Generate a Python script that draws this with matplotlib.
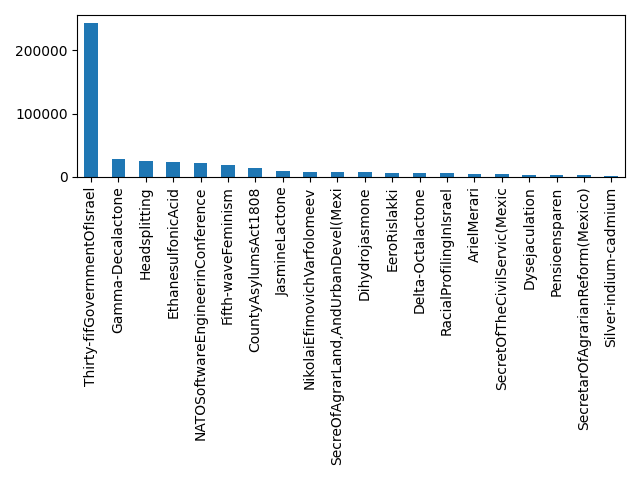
import matplotlib
matplotlib.use('Agg')
import matplotlib.pyplot as plt
import numpy as np

labels = ['Thirty-fifGovernmentOfIsrael', 'Gamma-Decalactone', 'Headsplitting',
          'EthanesulfonicAcid', 'NATOSoftwareEngineerinConference', 'Fifth-waveFeminism',
          'CountyAsylumsAct1808', 'JasmineLactone', 'NikolaiEfimovichVarfolomeev',
          'SecreOfAgrarLand,AndUrbanDevel(Mexi', 'Dihydrojasmone', 'EeroRislakki',
          'Delta-Octalactone', 'RacialProfilingInIsrael', 'ArielMerari',
          'SecretOfTheCivilServic(Mexic', 'Dysejaculation', 'Pensioensparen',
          'SecretarOfAgrarianReform(Mexico)', 'Silver-indium-cadmium']
values = [243800, 28000, 24800, 23200, 21600, 18500, 13700, 9000, 7400, 7400,
          7400, 5800, 5800, 5800, 4200, 4200, 2600, 2600, 2600, 1000]

fig, ax = plt.subplots(figsize=(6.4, 4.8), dpi=100)
x = np.arange(len(labels))
ax.bar(x, values, width=0.5, color='#1f77b4')
ax.set_xticks(x)
ax.set_xticklabels(labels, rotation=90)
ax.set_xlim(-0.5, len(labels) - 0.5)
fig.tight_layout()
fig.savefig('out.png')
